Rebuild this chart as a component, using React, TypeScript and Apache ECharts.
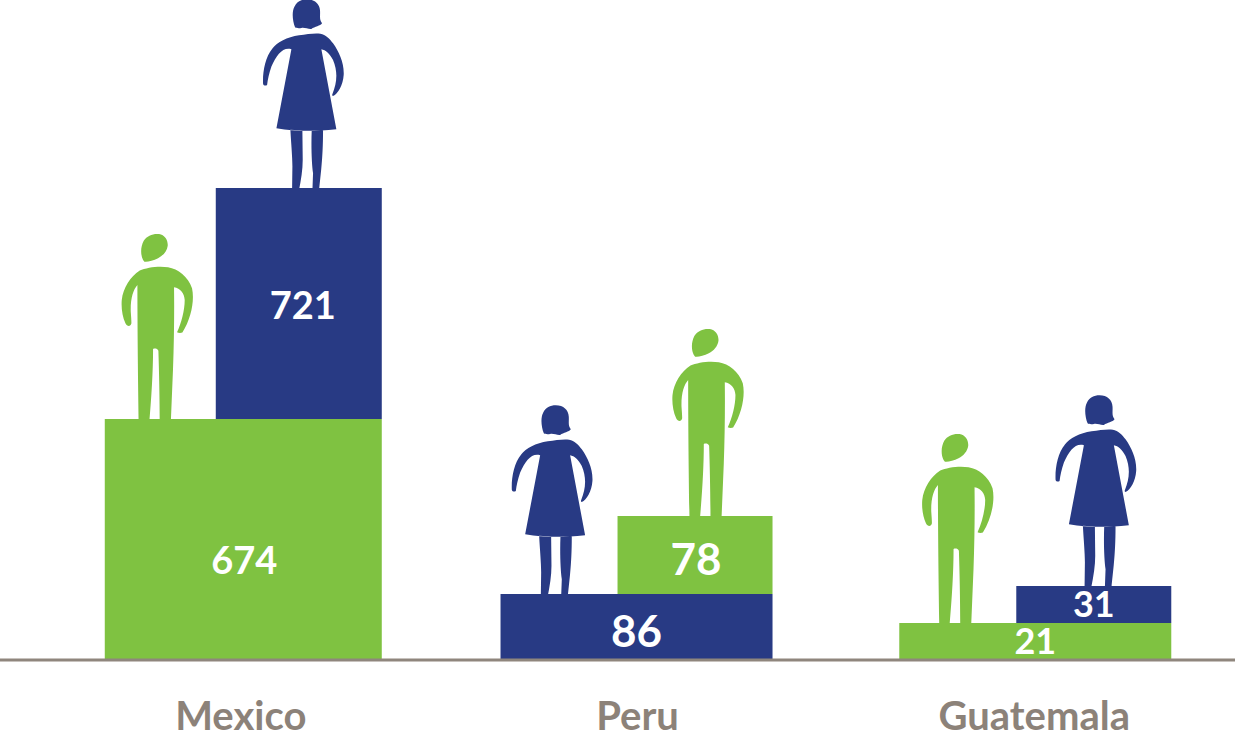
import React, { useEffect, useRef } from "react";
import * as echarts from "echarts";

// ---- data ----
const categories = ["Mexico", "Peru", "Guatemala"];
const menValues = [674, 78, 21];
const womenValues = [721, 86, 31];
// The steps of the original are not drawn to scale: these are the heights, in axis units.
const menStepHeights = [241, 78, 37];
const womenStepHeights = [231, 66, 37];
// Which series sits on the baseline in each category.
const lowerSeries = ["men", "women", "men"];

// ---- layout ----
const GREEN = "#7fc241";
const BLUE = "#283a84";
const AXIS_GREY = "#8f867d";
const LABEL_GREY = "#8c8279";
const FONT = 'Lato, "Open Sans", sans-serif';
const BAR_LEFT_OFFSET = {
  men: [-136, -20, -135],
  women: [-25, -137, -18],
};
const BAR_WIDTH = {
  men: [277, 155, 272],
  women: [166, 272, 155],
};
const FIGURE_OFFSET = {
  men: [{ x: 5, y: -194 }, { x: 43, y: -196 }, { x: 11, y: -198 }],
  women: [{ x: 34, y: -188 }, { x: -2, y: -188 }, { x: 26, y: -190 }],
};
const LABEL_STYLE = {
  men: [{ dx: 1, dy: 19, size: 38 }, { dx: 1, dy: 3, size: 44 }, { dx: 0, dy: -2, size: 36 }],
  women: [{ dx: 4, dy: 0, size: 38 }, { dx: 0, dy: 3, size: 44 }, { dx: 0, dy: -2, size: 36 }],
};

const WOMAN_PATH =
  "M136 82 C128 62 126 35 134 20 C142 4 155 -2 172 -2 C195 -2 210 12 211 32 C212 48 208 58 217 70 C212 78 195 80 185 87 C175 88 165 82 155 84 C148 85 140 85 136 82 Z " +
  "M68 146 C82 126 112 112 148 106 C172 102 195 99 212 101 C228 104 240 116 250 130 C268 155 284 190 282 225 C280 255 265 282 250 288 C247 288 247 285 248 283 C262 250 265 215 250 180 C240 162 228 150 215 148 L260 388 C190 395 140 395 80 385 L125 148 C100 140 80 165 65 200 C58 220 54 240 52 255 C48 258 42 258 40 252 C38 220 46 172 68 146 Z " +
  "M122 390 C124 430 128 470 128 500 L127 575 L147 575 C154 540 159 510 159 480 L158 392 Z " +
  "M186 392 C184 440 186 490 190 520 L188 575 L208 575 C212 530 220 480 220 392 Z";

const MAN_PATH =
  "M100 105 C92 90 92 65 102 47 C112 32 130 25 148 27 C165 30 175 45 174 62 C172 78 160 92 145 100 C130 107 112 112 104 110 Z " +
  "M90 137 C110 127 150 122 175 127 C205 132 235 155 247 190 C255 225 245 280 218 323 C214 325 206 325 202 322 C215 295 225 255 225 225 C224 205 212 190 193 187 C194 260 193 350 190 430 L183 600 L150 600 C150 520 148 440 146 378 C143 370 135 370 130 372 C130 440 125 520 118 600 L87 600 C85 480 83 300 83 180 C70 195 62 220 63 260 C64 275 65 285 65 295 C62 307 52 305 47 295 C38 275 34 250 36 225 C40 190 62 155 90 137 Z";

echarts.graphic.registerShape("womanFigure", echarts.graphic.extendPath(WOMAN_PATH, {}));
echarts.graphic.registerShape("manFigure", echarts.graphic.extendPath(MAN_PATH, {}));

function stepBase(who: "men" | "women", i: number): number {
  if (lowerSeries[i] === who) return 0;
  return who === "men" ? womenStepHeights[i] : menStepHeights[i];
}

function stepRenderer(who: "men" | "women", color: string, figure: string) {
  return (_params: any, api: any) => {
    const i = api.value(0);
    const base = api.value(1);
    const height = api.value(2);
    const value = api.value(3);
    const [cx, yBase] = api.coord([i, base]);
    const [, yTop] = api.coord([i, base + height]);
    const left = cx + BAR_LEFT_OFFSET[who][i];
    const width = BAR_WIDTH[who][i];
    const fig = FIGURE_OFFSET[who][i];
    const lab = LABEL_STYLE[who][i];
    return {
      type: "group",
      children: [
        {
          type: figure,
          x: left + fig.x,
          y: yTop + fig.y,
          scaleX: 1 / 3,
          scaleY: 1 / 3,
          style: { fill: color },
        },
        {
          type: "rect",
          shape: { x: left, y: yTop, width, height: yBase - yTop },
          style: { fill: color },
        },
        {
          type: "text",
          x: left + width / 2 + lab.dx,
          y: (yTop + yBase) / 2 + lab.dy,
          z2: 10,
          style: {
            text: String(value),
            fill: "#ffffff",
            font: `700 ${lab.size}px ${FONT}`,
            align: "center",
            verticalAlign: "middle",
          },
        },
      ],
    };
  };
}

export default function App() {
  const ref = useRef<HTMLDivElement>(null);

  useEffect(() => {
    document.body.style.margin = "0";
    document.body.style.background = "#ffffff";
    const chart = echarts.init(ref.current!, undefined, { renderer: "svg" });
    const encode = { x: 0, y: [1, 2] };
    chart.setOption({
      animation: false,
      backgroundColor: "#ffffff",
      grid: { left: 42.4, width: 1190.25, top: 0, height: 660, outerBoundsMode: "none" },
      xAxis: {
        type: "category",
        data: categories,
        axisTick: { show: false },
        axisLine: { show: false },
        axisLabel: {
          color: LABEL_GREY,
          fontFamily: FONT,
          fontWeight: 700,
          fontSize: 40,
          lineHeight: 30,
          margin: 40,
        },
      },
      yAxis: { type: "value", min: 0, max: 660, show: false },
      graphic: [
        {
          type: "line",
          z: 100,
          shape: { x1: 0, y1: 660, x2: 1235, y2: 660 },
          style: { stroke: AXIS_GREY, lineWidth: 3 },
        },
      ],
      series: [
        {
          type: "custom",
          name: "Men",
          encode,
          renderItem: stepRenderer("men", GREEN, "manFigure"),
          data: categories.map((_, i) => [i, stepBase("men", i), menStepHeights[i], menValues[i]]),
        },
        {
          type: "custom",
          name: "Women",
          encode,
          renderItem: stepRenderer("women", BLUE, "womanFigure"),
          data: categories.map((_, i) => [i, stepBase("women", i), womenStepHeights[i], womenValues[i]]),
        },
      ],
    });
    return () => chart.dispose();
  }, []);

  return <div ref={ref} style={{ width: 1235, height: 730 }} />;
}
